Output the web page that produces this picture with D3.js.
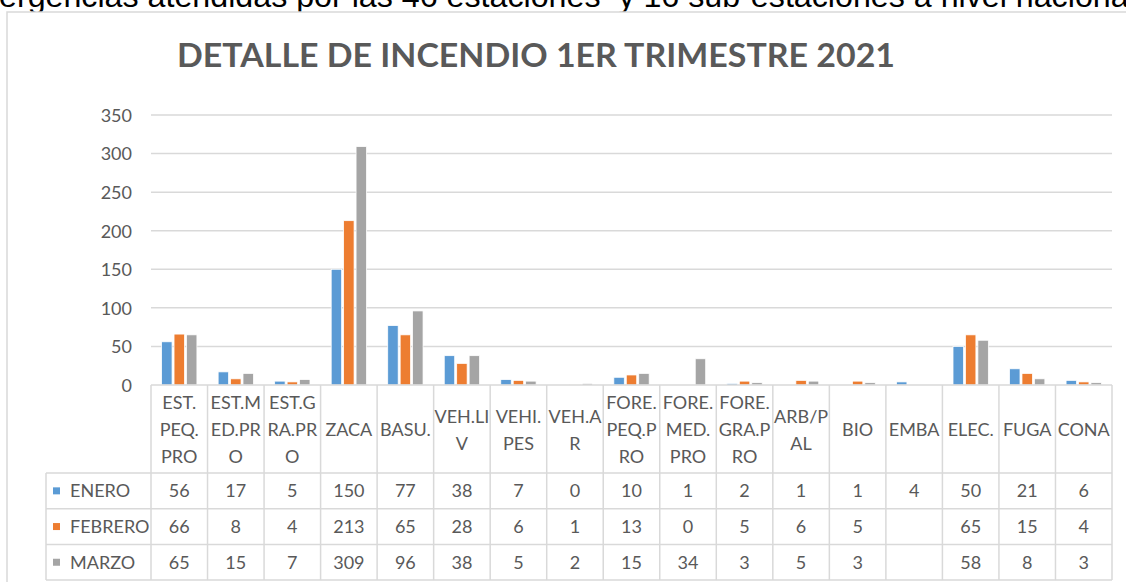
<!DOCTYPE html>
<html>
<head>
<meta charset="utf-8">
<script src="https://cdn.jsdelivr.net/npm/d3@7"></script>
<style>
  html, body { margin: 0; padding: 0; background: #fff; overflow: hidden; }
  svg { display: block; }
  text { white-space: pre; }
</style>
</head>
<body>
<svg id="chart" width="1126" height="582"></svg>
<script>
// ---------- DATA ----------
const headerText = "ergencias atendidas por las 46 estaciones  y 16 sub-estaciones a nivel naciona";
const chartTitle = "DETALLE DE INCENDIO 1ER TRIMESTRE 2021";
const categories = ["EST.\nPEQ.\nPRO", "EST.M\nED.PR\nO", "EST.G\nRA.PR\nO", "ZACA", "BASU.", "VEH.LI\nV", "VEHI.\nPES", "VEH.A\nR", "FORE.\nPEQ.P\nRO", "FORE.\nMED.\nPRO", "FORE.\nGRA.P\nRO", "ARB/P\nAL", "BIO", "EMBA", "ELEC.", "FUGA", "CONA"];
const seriesNames = ["ENERO", "FEBRERO", "MARZO"];
const enero   = [56, 17, 5, 150, 77, 38, 7, 0, 10, 1, 2, 1, 1, 4, 50, 21, 6];
const febrero = [66, 8, 4, 213, 65, 28, 6, 1, 13, 0, 5, 6, 5, null, 65, 15, 4];
const marzo   = [65, 15, 7, 309, 96, 38, 5, 2, 15, 34, 3, 5, 3, null, 58, 8, 3];
const yTicks = [0, 50, 100, 150, 200, 250, 300, 350];
const colors = ["#5B9BD5", "#ED7D31", "#A5A5A5"];

const seriesValues = [enero, febrero, marzo];

// ---------- LAYOUT ----------
const svg = d3.select("#chart");
const plotLeft = 151, plotRight = 1112, plotTop = 115, plotBottom = 385;
const headerBottom = 473, rowH = 35.7;
const legendLeft = 46;
const textColor = "#595959";
const lineColor = "#d9d9d9";
const font = "Lato, 'Open Sans', sans-serif";

// header text (cut off at top of the page)
const ht = svg.append("text")
  .attr("x", -1).attr("y", 6.5)
  .attr("font-family", "'Liberation Sans', Arial, sans-serif")
  .attr("font-size", 20)
  .attr("fill", "#000")
  .text(headerText);
{
  const natural = ht.node().getComputedTextLength();
  ht.attr("font-size", 20 * 1130 / natural);
}

// chart frame
svg.append("rect")
  .attr("x", 7).attr("y", 12)
  .attr("width", 1200).attr("height", 700)
  .attr("fill", "#fff").attr("stroke", lineColor).attr("stroke-width", 1.5);

// title
svg.append("text")
  .attr("x", 536).attr("y", 67)
  .attr("text-anchor", "middle")
  .attr("font-family", font)
  .attr("font-weight", "bold")
  .attr("font-size", 32)
  .attr("fill", textColor)
  .attr("textLength", 718)
  .attr("lengthAdjust", "spacingAndGlyphs")
  .text(chartTitle);

// scales
const x = d3.scaleBand().domain(categories).range([plotLeft, plotRight]).padding(0);
const groupW = x.bandwidth() * 0.66;
const x1 = d3.scaleBand().domain(seriesNames).range([0, groupW]).padding(0);
const y = d3.scaleLinear().domain([0, 350]).range([plotBottom, plotTop]);

// gridlines
svg.append("g")
  .selectAll("line")
  .data(yTicks.filter(d => d > 0))
  .join("line")
  .attr("x1", plotLeft).attr("x2", plotRight)
  .attr("y1", d => y(d)).attr("y2", d => y(d))
  .attr("stroke", lineColor).attr("stroke-width", 1.5);

// y axis labels
const yAxis = svg.append("g")
  .attr("transform", `translate(${plotLeft - 19},0)`)
  .call(d3.axisLeft(y).tickValues(yTicks).tickSize(0).tickPadding(0));
yAxis.select(".domain").remove();
yAxis.selectAll("text")
  .attr("font-family", font).attr("font-size", 18).attr("fill", textColor)
  .attr("dy", "0.35em");

// bars
seriesNames.forEach((s, si) => {
  svg.append("g")
    .selectAll("rect")
    .data(categories.map((c, i) => ({c, v: seriesValues[si][i]})).filter(d => d.v !== null && d.v > 0))
    .join("rect")
    .attr("x", d => x(d.c) + (x.bandwidth() - groupW) / 2 + x1(s) + 1)
    .attr("width", x1.bandwidth() - 2)
    .attr("y", d => y(d.v))
    .attr("height", d => y(0) - y(d.v))
    .attr("fill", colors[si])
    .attr("stroke", "#fff").attr("stroke-width", 0.75);
});

// ---------- DATA TABLE ----------
const tableBottom = headerBottom + rowH * seriesNames.length;
const tg = svg.append("g");
tg.append("line").attr("x1", plotLeft).attr("x2", plotRight).attr("y1", plotBottom).attr("y2", plotBottom)
  .attr("stroke", lineColor).attr("stroke-width", 1.5);
d3.range(seriesNames.length + 1).forEach(r => {
  const yy = headerBottom + r * rowH;
  tg.append("line").attr("x1", legendLeft).attr("x2", plotRight).attr("y1", yy).attr("y2", yy)
    .attr("stroke", lineColor).attr("stroke-width", 1.5);
});
categories.forEach(c => {
  tg.append("line").attr("x1", x(c)).attr("x2", x(c)).attr("y1", plotBottom).attr("y2", tableBottom)
    .attr("stroke", lineColor).attr("stroke-width", 1.5);
});
tg.append("line").attr("x1", plotRight).attr("x2", plotRight).attr("y1", plotBottom).attr("y2", tableBottom)
  .attr("stroke", lineColor).attr("stroke-width", 1.5);
tg.append("line").attr("x1", legendLeft).attr("x2", legendLeft).attr("y1", headerBottom).attr("y2", tableBottom)
  .attr("stroke", lineColor).attr("stroke-width", 1.5);

// category header labels
const lineH = 27;
const headerMid = (plotBottom + headerBottom) / 2 + 1;
categories.forEach(c => {
  const lines = c.split("\n");
  const t = tg.append("text")
    .attr("text-anchor", "middle")
    .attr("font-family", font).attr("font-size", 18).attr("fill", textColor);
  lines.forEach((ln, i) => {
    t.append("tspan")
      .attr("x", x(c) + x.bandwidth() / 2)
      .attr("y", headerMid + (i - (lines.length - 1) / 2) * lineH)
      .attr("dy", "0.35em")
      .text(ln);
  });
});

// rows
seriesNames.forEach((s, si) => {
  const cy = headerBottom + si * rowH + rowH / 2;
  tg.append("rect")
    .attr("x", 53).attr("y", cy - 3.5).attr("width", 7).attr("height", 7)
    .attr("fill", colors[si]);
  tg.append("text")
    .attr("x", 70).attr("y", cy).attr("dy", "0.35em")
    .attr("font-family", font).attr("font-size", 18).attr("fill", textColor)
    .text(s);
  categories.forEach((c, i) => {
    const v = seriesValues[si][i];
    if (v === null) return;
    tg.append("text")
      .attr("x", x(c) + x.bandwidth() / 2).attr("y", cy).attr("dy", "0.35em")
      .attr("text-anchor", "middle")
      .attr("font-family", font).attr("font-size", 18).attr("fill", textColor)
      .text(v);
  });
});
</script>
</body>
</html>
